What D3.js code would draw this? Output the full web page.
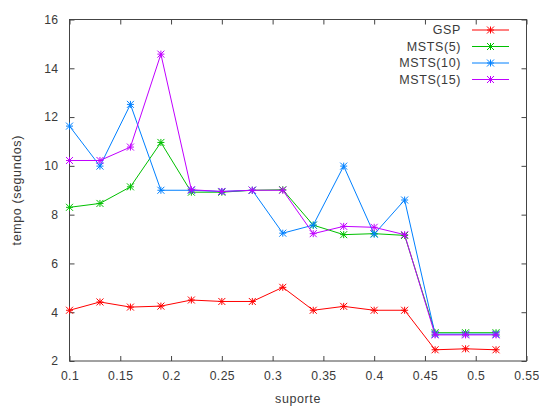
<!DOCTYPE html>
<html>
<head>
<meta charset="utf-8">
<script src="https://cdn.jsdelivr.net/npm/d3@7"></script>
<style>
  body { margin: 0; background: #fff; }
  svg { display: block; font-family: "Liberation Sans", Arial, sans-serif; letter-spacing: 0.6px; }
</style>
</head>
<body>
<div id="chart"></div>
<script>
(function () {

  // Valores de soporte (eje x)
  const suporte = [0.10, 0.13, 0.16, 0.19, 0.22, 0.25, 0.28, 0.31, 0.34, 0.37, 0.40, 0.43, 0.46, 0.49, 0.52]

  // Tiempos de cada serie
  const gsp = [4.08, 4.42, 4.21, 4.25, 4.5, 4.44, 4.44, 5.02, 4.08, 4.24, 4.08, 4.08, 2.46, 2.5, 2.46]
  const msts5 = [8.3, 8.46, 9.14, 10.96, 8.92, 8.92, 9.0, 9.02, 7.57, 7.18, 7.22, 7.15, 3.16, 3.16, 3.16]
  const msts10 = [11.63, 9.99, 12.52, 9.0, 9.0, 8.95, 9.0, 7.24, 7.57, 9.99, 7.2, 8.6, 3.1, 3.1, 3.1]
  const msts15 = [10.22, 10.22, 10.77, 14.58, 9.02, 8.95, 9.0, 9.0, 7.22, 7.52, 7.48, 7.18, 3.07, 3.07, 3.07]

  const names = ['GSP', 'MSTS(5)', 'MSTS(10)', 'MSTS(15)']
  const colors = ['#ff0000', '#00c000', '#0080ff', '#c000ff']
  const xTicks = [0.1, 0.15, 0.2, 0.25, 0.3, 0.35, 0.4, 0.45, 0.5, 0.55]
  const yTicks = [2, 4, 6, 8, 10, 12, 14, 16]

  const width = 539, height = 407
  const margin = { top: 19.5, right: 12.5, bottom: 46, left: 69.5 }

  const series = [gsp, msts5, msts10, msts15].map((vals, i) => ({
    name: names[i], color: colors[i],
    points: vals.map((v, j) => [suporte[j], v])
  }))

  const svg = d3.select('#chart').append('svg')
    .attr('width', width).attr('height', height)

  const x = d3.scaleLinear().domain([0.1, 0.55]).range([margin.left, width - margin.right])
  const y = d3.scaleLinear().domain([2, 16]).range([height - margin.bottom, margin.top])

  const axisColor = '#444'
  const tickLen = 5

  // Ejes con ticks hacia adentro (estilo gnuplot)
  const styleAxis = g => {
    g.select('.domain').remove()
    g.selectAll('line').attr('stroke', axisColor)
    g.selectAll('text').attr('fill', '#3a3a3a').attr('font-size', 12.2)
      .style('letter-spacing', '0.4px')
  }

  svg.append('g')
    .attr('transform', `translate(0,${y(2)})`)
    .call(d3.axisBottom(x).tickValues(xTicks).tickSizeInner(-tickLen).tickSizeOuter(0).tickPadding(10.5).tickFormat(d3.format('')))
    .call(styleAxis)

  svg.append('g')
    .attr('transform', `translate(0,${y(16)})`)
    .call(d3.axisTop(x).tickValues(xTicks).tickSizeInner(-tickLen).tickSizeOuter(0).tickFormat(''))
    .call(styleAxis)

  svg.append('g')
    .attr('transform', `translate(${x(0.1)},0)`)
    .call(d3.axisLeft(y).tickValues(yTicks).tickSizeInner(-tickLen).tickSizeOuter(0).tickPadding(11))
    .call(styleAxis)

  svg.append('g')
    .attr('transform', `translate(${x(0.55)},0)`)
    .call(d3.axisRight(y).tickValues(yTicks).tickSizeInner(-tickLen).tickSizeOuter(0).tickFormat(''))
    .call(styleAxis)

  // Marco
  svg.append('rect')
    .attr('x', x(0.1)).attr('y', y(16))
    .attr('width', x(0.55) - x(0.1)).attr('height', y(2) - y(16))
    .attr('fill', 'none').attr('stroke', axisColor).attr('stroke-width', 1)

  // Etiquetas de los ejes
  svg.append('text')
    .attr('x', (x(0.1) + x(0.55)) / 2).attr('y', 403)
    .attr('text-anchor', 'middle').attr('font-size', 12.5).attr('fill', '#3a3a3a')
    .text('suporte')

  svg.append('text')
    .attr('transform', `translate(21,${(y(2) + y(16)) / 2}) rotate(-90)`)
    .attr('text-anchor', 'middle').attr('font-size', 12.5).attr('fill', '#3a3a3a')
    .text('tempo (segundos)')

  const line = d3.line().x(d => x(d[0])).y(d => y(d[1]))

  // Asterisco de gnuplot (+ y x)
  const star = (g, cx, cy, color) => {
    const r = 3.5
    const p = `M${cx - r},${cy}L${cx + r},${cy}M${cx},${cy - r}L${cx},${cy + r}` +
      `M${cx - r},${cy - r}L${cx + r},${cy + r}M${cx - r},${cy + r}L${cx + r},${cy - r}`
    g.append('path').attr('d', p).attr('stroke', color).attr('stroke-width', 1).attr('fill', 'none')
  }

  const plot = svg.append('g')
  series.forEach(s => {
    plot.append('path')
      .attr('d', line(s.points))
      .attr('fill', 'none').attr('stroke', s.color).attr('stroke-width', 1)
    const gm = plot.append('g')
    s.points.forEach(p => star(gm, x(p[0]), y(p[1]), s.color))
  })

  // Leyenda
  const legend = svg.append('g')
  series.forEach((s, i) => {
    const ly = 30 + i * 16.5
    legend.append('text')
      .attr('x', 461).attr('y', ly).attr('dy', '0.35em')
      .attr('text-anchor', 'end').attr('font-size', 12.5).attr('fill', '#3a3a3a')
      .text(s.name)
    legend.append('line')
      .attr('x1', 472).attr('x2', 509).attr('y1', ly).attr('y2', ly)
      .attr('stroke', s.color).attr('stroke-width', 1)
    star(legend, 490.5, ly, s.color)
  })

})()
</script>
</body>
</html>
